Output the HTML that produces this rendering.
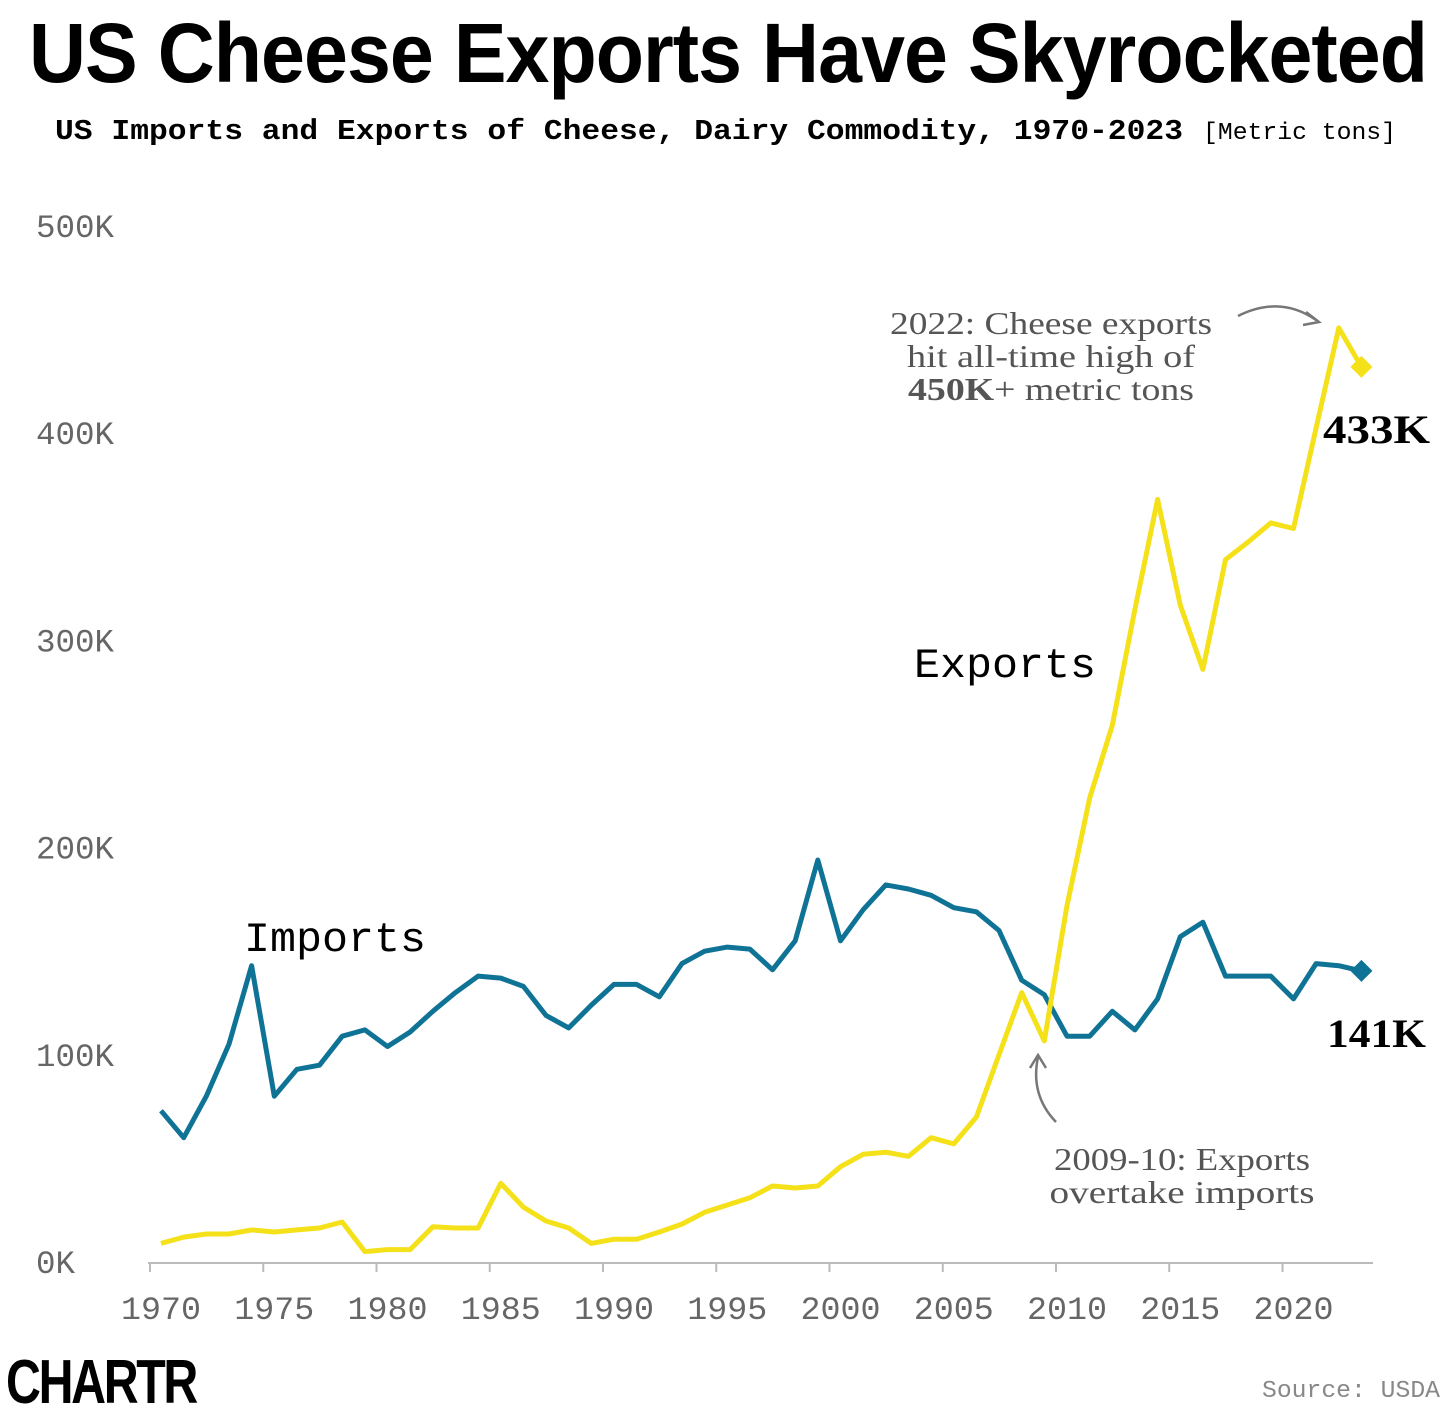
<!DOCTYPE html>
<html><head><meta charset="utf-8"><style>
html,body{margin:0;padding:0;background:#fff;width:1456px;height:1412px;overflow:hidden}
svg text{font-family:"Liberation Mono",monospace}
</style></head><body>
<svg id="chart" width="1456" height="1412" xmlns="http://www.w3.org/2000/svg">
<text x="728" y="82" text-anchor="middle" style="font-family:'Liberation Sans Narrow','Liberation Sans',sans-serif;font-weight:bold;font-size:84px;letter-spacing:-1px" textLength="1398" lengthAdjust="spacingAndGlyphs">US Cheese Exports Have Skyrocketed</text>
<text x="55" y="139" style="font-weight:bold;font-size:29px" textLength="1128" lengthAdjust="spacingAndGlyphs">US Imports and Exports of Cheese, Dairy Commodity, 1970-2023</text>
<text x="1203" y="139" style="font-size:24px" textLength="193" lengthAdjust="spacingAndGlyphs">[Metric tons]</text>
<g id="axes"></g>
<g id="series"></g>
<text x="244" y="951" style="font-size:42px" textLength="182" lengthAdjust="spacingAndGlyphs">Imports</text>
<text x="914" y="677" style="font-size:42px" textLength="182" lengthAdjust="spacingAndGlyphs">Exports</text>
<g style="fill:#555" text-anchor="middle">
<text x="1051" y="334" style="font-family:'Liberation Serif',serif;font-size:32px" textLength="322" lengthAdjust="spacingAndGlyphs">2022: Cheese exports</text>
<text x="1051" y="367" style="font-family:'Liberation Serif',serif;font-size:32px" textLength="288" lengthAdjust="spacingAndGlyphs">hit all-time high of</text>
<text x="1051" y="400" style="font-family:'Liberation Serif',serif;font-size:32px" textLength="286" lengthAdjust="spacingAndGlyphs"><tspan font-weight="bold">450K</tspan>+ metric tons</text>
</g>
<path d="M1238,316 Q1280,295 1316,320" fill="none" stroke="#777" stroke-width="2.5"/>
<path d="M1306,312 L1319,322 L1303,325" fill="none" stroke="#777" stroke-width="2.5"/>
<g text-anchor="middle" style="fill:#555">
<text x="1182" y="1170" style="font-family:'Liberation Serif',serif;font-size:32px" textLength="256" lengthAdjust="spacingAndGlyphs">2009-10: Exports</text>
<text x="1182" y="1203" style="font-family:'Liberation Serif',serif;font-size:32px" textLength="265" lengthAdjust="spacingAndGlyphs">overtake imports</text>
</g>
<path d="M1056,1122 Q1030,1095 1038,1057" fill="none" stroke="#777" stroke-width="2.5"/>
<path d="M1030,1068 L1038,1055 L1046,1068" fill="none" stroke="#777" stroke-width="2.5"/>
<text x="1430" y="443" text-anchor="end" style="font-family:'Liberation Serif',serif;font-weight:bold;font-size:40px" textLength="107" lengthAdjust="spacingAndGlyphs">433K</text>
<text x="1426" y="1047" text-anchor="end" style="font-family:'Liberation Serif',serif;font-weight:bold;font-size:40px" textLength="99" lengthAdjust="spacingAndGlyphs">141K</text>
<text x="6" y="1403" style="font-family:'Liberation Sans Narrow','Liberation Sans',sans-serif;font-weight:bold;font-size:62px;letter-spacing:-3px" textLength="190" lengthAdjust="spacingAndGlyphs">CHARTR</text>
<text x="1440" y="1397" text-anchor="end" style="font-size:24px;fill:#888" textLength="178" lengthAdjust="spacingAndGlyphs">Source: USDA</text>
</svg>
<script>
const years=[];for(let y=1970;y<=2023;y++)years.push(y);
const importsK=[73,60,80,105,143,80,93,95,109,112,104,111,121,130,138,137,133,119,113,124,134,134,128,144,150,152,151,141,155,194,155,170,182,180,177,171,169,160,136,129,109,109,121,112,127,157,164,138,138,138,127,144,143,140.5];
const exportsK=[9,12,13.5,13.5,15.5,14.5,15.5,16.4,19.3,5,6,6,17,16.4,16.4,38,26.5,19.8,16.4,9,11,11,14.5,18.3,24,27.5,31,36.7,35.7,36.7,46,52,53,51,60,57,70,100,130,106.7,172,224,259,315,368,317,286,339,347.5,356.7,354,402.5,450.8,432];
const yTicks=[0,100,200,300,400,500];
const xTicks=[1970,1975,1980,1985,1990,1995,2000,2005,2010,2015,2020];
const NS="http://www.w3.org/2000/svg";
const X=y=>161+(y-1970)*22.65;
const Y=v=>1262-v*2.072;
const axes=document.getElementById('axes'),ser=document.getElementById('series');
function mk(tag,attrs,parent){const e=document.createElementNS(NS,tag);for(const k in attrs)e.setAttribute(k,attrs[k]);parent.appendChild(e);return e;}
yTicks.forEach(t=>{const s=t+'K';const e=mk('text',{x:36,y:Y(t)+11,'font-size':32,fill:'#666',textLength:s.length*19.5,lengthAdjust:'spacingAndGlyphs'},axes);e.textContent=s;

});
const base=mk('line',{x1:148,x2:1373,y1:1263,y2:1263,stroke:'#bbb','stroke-width':2},axes);


xTicks.forEach(t=>{const l=mk('line',{x1:X(t)-11,x2:X(t)-11,y1:1263,y2:1272,stroke:'#bbb','stroke-width':2},axes);


const e=mk('text',{x:X(t),y:1319,'font-size':32,fill:'#666','text-anchor':'middle',textLength:80,lengthAdjust:'spacingAndGlyphs'},axes);e.textContent=t;

});
function line(vals,color,name){const d=vals.map((v,i)=>(i?'L':'M')+X(years[i]).toFixed(1)+','+Y(v).toFixed(1)).join(' ');
const p=mk('path',{d:d,fill:'none',stroke:color,'stroke-width':5,'stroke-linejoin':'round'},ser);


const n=vals.length-1,cx=X(years[n]),cy=Y(vals[n]);
const m=mk('path',{d:`M${cx},${cy-11} L${cx+11},${cy} L${cx},${cy+11} L${cx-11},${cy} Z`,fill:color},ser);

}
line(importsK,'#0f7396','imports');
line(exportsK,'#f5e11a','exports');
</script>
</body></html>
